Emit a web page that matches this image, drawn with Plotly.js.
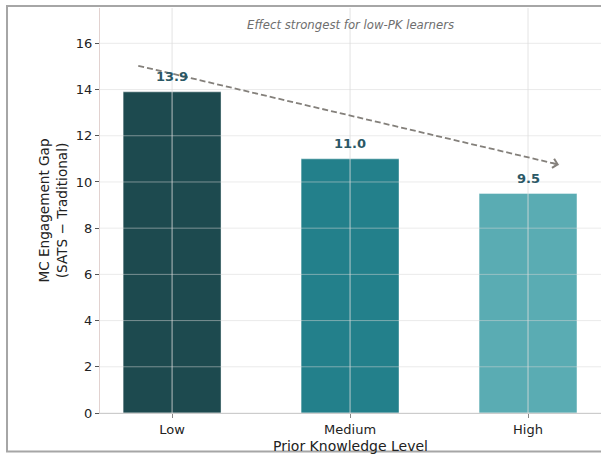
<!DOCTYPE html>
<html>
<head>
<meta charset="utf-8">
<script src="https://cdn.plot.ly/plotly-3.0.1.min.js"></script>
<style>
  html, body { margin: 0; padding: 0; background: #ffffff; }
  #chart { width: 601px; height: 454px; }
</style>
</head>
<body>
<div id="chart"></div>
<script>
// Engagement gap by prior-knowledge level
const categories = ['Low', 'Medium', 'High'];
const gapValues = [13.9, 11.0, 9.5];
const barColors = ['#1d4a4f', '#23808b', '#5aacb3'];
const yTicks = [0, 2, 4, 6, 8, 10, 12, 14, 16];

// Trend arrow end points (category index, gap value)
const trendStart = [-0.19, 15.03];
const trendEnd = [2.174, 10.75];

const font = 'DejaVu Sans, Arial, sans-serif';

const bars = {
  type: 'bar',
  x: categories.map((_, i) => i),
  y: gapValues,
  width: 0.55,
  marker: { color: barColors, line: { color: 'rgba(255,255,255,0.5)', width: 0.8 } },
  hoverinfo: 'skip'
};

// Grid lines drawn above the bars
const shapes = [];
yTicks.forEach(t => {
  shapes.push({
    type: 'line', layer: 'above', xref: 'paper', yref: 'y',
    x0: 0, x1: 1, y0: t, y1: t,
    line: { color: 'rgba(215,215,215,0.5)', width: 1 }
  });
});
categories.forEach((_, i) => {
  shapes.push({
    type: 'line', layer: 'above', xref: 'x', yref: 'paper',
    x0: i, x1: i, y0: 0, y1: 1,
    line: { color: 'rgba(220,220,220,0.8)', width: 1 }
  });
});
// Dashed trend line
shapes.push({
  type: 'line', layer: 'above', xref: 'x', yref: 'y',
  x0: trendStart[0], y0: trendStart[1], x1: trendEnd[0], y1: trendEnd[1],
  line: { color: '#84807b', width: 1.8, dash: '6px,3px' }
});
// Frame around the figure
shapes.push({
  type: 'rect', layer: 'above', xref: 'paper', yref: 'paper',
  x0: -0.1856, x1: 1.02, y0: -0.095, y1: 1.005,
  line: { color: '#a6a6a6', width: 2 }, fillcolor: 'rgba(0,0,0,0)'
});

const annotations = [
  {
    x: trendEnd[0], y: trendEnd[1], xref: 'x', yref: 'y',
    ax: trendEnd[0] - 0.05, ay: trendEnd[1] + 0.09, axref: 'x', ayref: 'y',
    text: '', showarrow: true, arrowhead: 4, arrowsize: 1.2, arrowwidth: 1.5,
    arrowcolor: '#84807b'
  },
  {
    x: 1, y: 16.8, xref: 'x', yref: 'y',
    text: '<i>Effect strongest for low-PK learners</i>',
    showarrow: false,
    font: { family: font, size: 11.7, color: '#6e6e6e' }
  }
];
// Value labels above each bar
gapValues.forEach((v, i) => {
  annotations.push({
    x: i, y: v, xref: 'x', yref: 'y',
    text: '<b>' + v.toFixed(1) + '</b>',
    showarrow: false, yanchor: 'bottom', yshift: 6,
    font: { family: font, size: 13, color: '#2b5866' }
  });
});

const layout = {
  width: 601, height: 454,
  margin: { l: 100, r: 0, t: 8, b: 40.5 },
  paper_bgcolor: '#ffffff',
  plot_bgcolor: '#ffffff',
  showlegend: false,
  font: { family: font, color: '#222222' },
  xaxis: {
    range: [-0.405, 2.41],
    tickmode: 'array',
    tickvals: categories.map((_, i) => i),
    ticktext: categories,
    tickfont: { family: font, size: 13, color: '#222' },
    ticks: 'outside', ticklen: 4, tickcolor: '#888',
    showgrid: false, zeroline: false,
    showline: true, linecolor: '#cccccc', linewidth: 1,
    title: { text: 'Prior Knowledge Level', font: { family: font, size: 14, color: '#222' }, standoff: 12 }
  },
  yaxis: {
    range: [0, 17.53],
    tickmode: 'array',
    tickvals: yTicks,
    tickfont: { family: font, size: 13, color: '#222' },
    ticks: 'outside', ticklen: 4, tickcolor: '#555',
    showgrid: false, zeroline: false,
    showline: true, linecolor: '#e2d2d0', linewidth: 1,
    title: { text: 'MC Engagement Gap<br>(SATS − Traditional)', font: { family: font, size: 13.6, color: '#222' }, standoff: 5 }
  },
  shapes: shapes,
  annotations: annotations
};

Plotly.newPlot('chart', [bars], layout, { staticPlot: true, displayModeBar: false });
</script>
</body>
</html>
